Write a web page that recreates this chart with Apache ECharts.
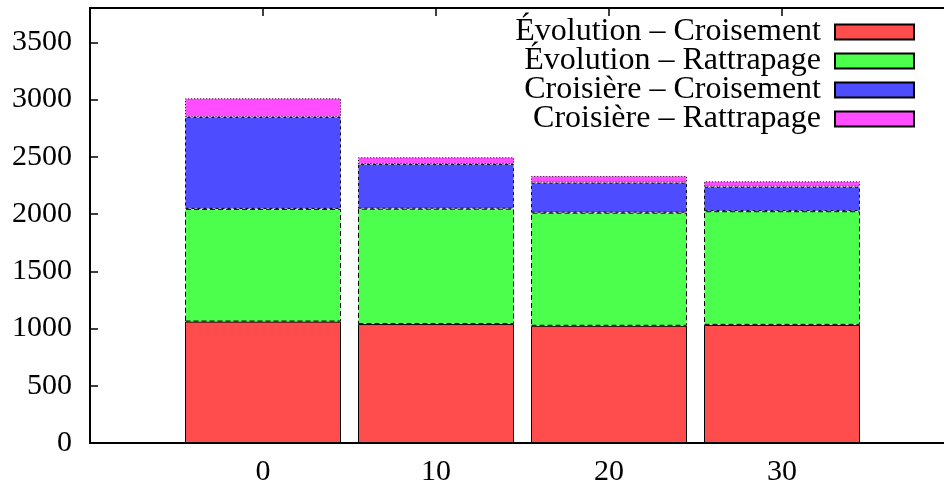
<!DOCTYPE html>
<html>
<head>
<meta charset="utf-8">
<script src="https://cdn.jsdelivr.net/npm/echarts@6/dist/echarts.min.js"></script>
<style>html,body{margin:0;padding:0;background:#fff}#c{width:944px;height:487px}</style>
</head>
<body>
<div id="c"></div>
<script>
const categories = ['0', '10', '20', '30'];
const seriesNames = ['Évolution – Croisement', 'Évolution – Rattrapage', 'Croisière – Croisement', 'Croisière – Rattrapage'];
const evoCroisement = [1061, 1039, 1024, 1032];
const evoRattrapage = [984, 1008, 988, 993];
const croCroisement = [803, 390, 262, 214];
const croRattrapage = [163, 59, 59, 47];
const yTicks = [0, 500, 1000, 1500, 2000, 2500, 3000, 3500];

const colors = ['#ff4d4d', '#4dff4d', '#4d4dff', '#ff4dff'];
const borderTypes = ['solid', [5, 3], [3, 3], [1, 2]];
const values = [evoCroisement, evoRattrapage, croCroisement, croRattrapage];
const FONT = 'Liberation Serif';

// one empty slot on each side of the categories (gnuplot x range)
const xData = [''].concat(categories, ['']);

const chart = echarts.init(document.getElementById('c'), null, {renderer: 'canvas'});

chart.setOption({
  animation: false,
  backgroundColor: '#ffffff',
  grid: {left: 90, top: 8, bottom: 44, width: 865, outerBoundsMode: 'none', show: true, borderColor: '#000', borderWidth: 2, backgroundColor: 'transparent', containLabel: false},
  legend: {
    orient: 'vertical', right: 24, top: 11, align: 'right',
    itemWidth: 79, itemHeight: 15, itemGap: -3, icon: 'rect',
    textStyle: {fontFamily: FONT, fontSize: 32, color: '#000', lineHeight: 29, padding: [0, 9, 0, 0]},
    data: seriesNames
  },
  xAxis: [{
    type: 'category', data: xData, boundaryGap: false, position: 'bottom',
    axisLine: {show: false}, axisTick: {show: false}, splitLine: {show: false},
    axisLabel: {fontFamily: FONT, fontSize: 30, color: '#000', margin: 14, interval: 0}
  }, {
    type: 'category', data: xData, boundaryGap: false, position: 'top',
    axisLine: {show: false}, axisTick: {show: true, inside: true, length: 8, interval: 0, lineStyle: {color: '#000', width: 1.5}},
    splitLine: {show: false}, axisLabel: {show: false}
  }],
  yAxis: {
    type: 'value', min: 0, max: 3800, interval: 500,
    axisLine: {show: false, onZero: false}, splitLine: {show: false},
    axisTick: {show: true, inside: true, length: 8, lineStyle: {color: '#000', width: 1.5}},
    axisLabel: {fontFamily: FONT, fontSize: 30, color: '#000', margin: 18, showMaxLabel: false,
      formatter: v => yTicks.includes(v) ? String(v) : ''}
  },
  series: seriesNames.map((name, i) => ({
    name, type: 'bar', stack: 'total', barWidth: 156,
    xAxisIndex: 0,
    data: [null].concat(values[i], [null]),
    itemStyle: {color: colors[i], borderColor: '#000', borderWidth: 1, borderType: borderTypes[i]},
    emphasis: {disabled: true}
  }))
});
</script>
</body>
</html>
